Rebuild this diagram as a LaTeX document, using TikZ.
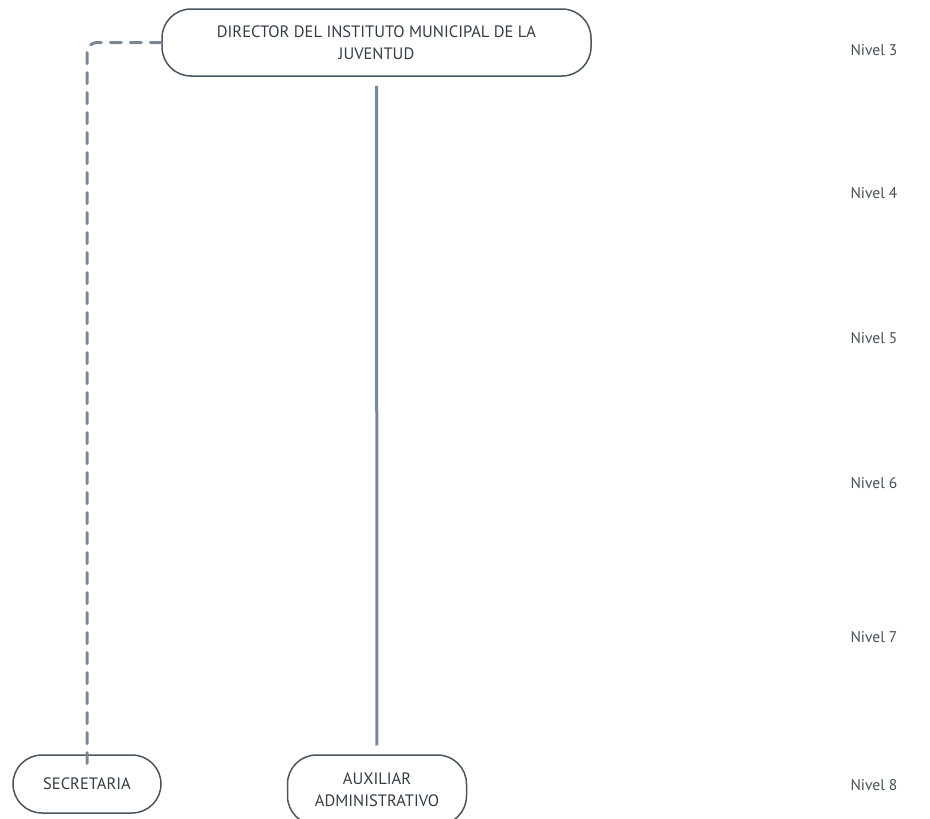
\documentclass[tikz,border=0pt]{standalone}
\usepackage{fontspec}
\setmainfont{PT Sans}
\begin{document}
\begin{tikzpicture}[x=1pt,y=-1pt,
  every node/.style={font=\fontsize{16.5}{22}\selectfont},
  orgbox/.style={draw=boxline, line width=1.5pt, rounded corners=29pt,
    text=boxtext, align=center, inner sep=0pt},
  solidlink/.style={draw=linkgray, line width=3pt},
  dashlink/.style={draw=linkgray, line width=3pt, line cap=round,
    dash pattern=on 11pt off 9pt, rounded corners=10pt},
  level/.style={text=leveltext, anchor=west, font=\fontsize{15.5}{18}\selectfont}]
\definecolor{boxline}{HTML}{4A5560}
\definecolor{boxtext}{HTML}{333C45}
\definecolor{linkgray}{HTML}{7B8894}
\definecolor{leveltext}{HTML}{454F58}
\useasboundingbox (0,0) rectangle (930,819);

% org chart boxes
\node[orgbox, minimum width=429pt, minimum height=67pt] (dir) at (376.5,42.5)
  {DIRECTOR DEL INSTITUTO MUNICIPAL DE LA\\JUVENTUD};
\node[orgbox, minimum width=148pt, minimum height=58pt] (sec) at (87,784)
  {SECRETARIA};
\node[orgbox, minimum width=179pt, minimum height=70pt] (aux) at (377,790)
  {AUXILIAR\\ADMINISTRATIVO};

% reporting lines
\draw[solidlink, shorten <=9pt, shorten >=9pt] (dir.south) -- (aux.north);
\draw[dashlink] (dir.west) -- (sec.north |- dir.west) -- ([yshift=-9pt]sec.north);

% hierarchy levels
\node[level] (n3) at (847,50) {Nivel 3};
\node[level] (n4) at (847,193) {Nivel 4};
\node[level] (n5) at (847,338) {Nivel 5};
\node[level] (n6) at (847,483) {Nivel 6};
\node[level] (n7) at (847,637) {Nivel 7};
\node[level] (n8) at (847,785) {Nivel 8};
\end{tikzpicture}
\end{document}
